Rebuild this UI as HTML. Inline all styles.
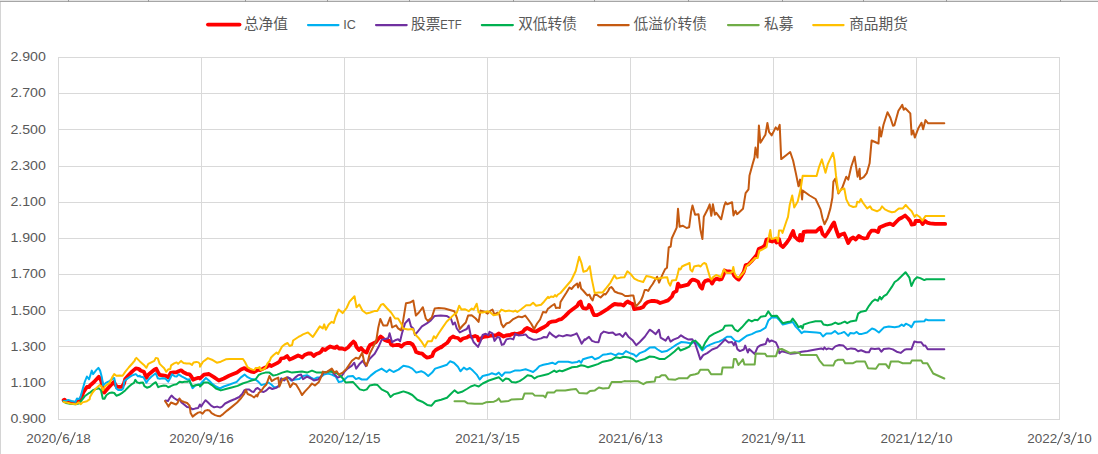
<!DOCTYPE html>
<html><head><meta charset="utf-8"><title>chart</title>
<style>html,body{margin:0;padding:0;background:#fff;}body{width:1098px;height:454px;overflow:hidden;}svg{display:block;}text{font-family:"Liberation Sans",sans-serif;fill:#595959;}</style></head><body>
<svg width="1098" height="454" viewBox="0 0 1098 454">
<rect width="1098" height="454" fill="#fff"/>
<rect x="0" y="0" width="1098" height="1" fill="#E4E4E4"/>
<rect x="0" y="1" width="1098" height="1" fill="#A6A6A6"/>
<rect x="0" y="2" width="1" height="452" fill="#D4D4D4"/>
<rect x="68" y="0" width="1" height="2" fill="#999999"/>
<rect x="148" y="0" width="1" height="2" fill="#999999"/>
<rect x="245" y="0" width="1" height="2" fill="#999999"/>
<rect x="327" y="0" width="1" height="2" fill="#999999"/>
<rect x="409" y="0" width="1" height="2" fill="#999999"/>
<rect x="513" y="0" width="1" height="2" fill="#999999"/>
<rect x="594" y="0" width="1" height="2" fill="#999999"/>
<rect x="688" y="0" width="1" height="2" fill="#999999"/>
<rect x="782" y="0" width="1" height="2" fill="#999999"/>
<rect x="863" y="0" width="1" height="2" fill="#999999"/>
<rect x="946" y="0" width="1" height="2" fill="#999999"/>
<rect x="1060" y="0" width="1" height="2" fill="#999999"/>
<g stroke="#D9D9D9" stroke-width="1" fill="none" shape-rendering="crispEdges">
<line x1="58.0" y1="57.5" x2="1060.0" y2="57.5"/>
<line x1="58.0" y1="93.5" x2="1060.0" y2="93.5"/>
<line x1="58.0" y1="129.5" x2="1060.0" y2="129.5"/>
<line x1="58.0" y1="166.5" x2="1060.0" y2="166.5"/>
<line x1="58.0" y1="202.5" x2="1060.0" y2="202.5"/>
<line x1="58.0" y1="238.5" x2="1060.0" y2="238.5"/>
<line x1="58.0" y1="274.5" x2="1060.0" y2="274.5"/>
<line x1="58.0" y1="310.5" x2="1060.0" y2="310.5"/>
<line x1="58.0" y1="346.5" x2="1060.0" y2="346.5"/>
<line x1="58.0" y1="383.5" x2="1060.0" y2="383.5"/>
<line x1="58.0" y1="419.5" x2="1060.0" y2="419.5"/>
<line x1="58.5" y1="57.0" x2="58.5" y2="420.0"/>
<line x1="201.5" y1="57.0" x2="201.5" y2="420.0"/>
<line x1="344.5" y1="57.0" x2="344.5" y2="420.0"/>
<line x1="487.5" y1="57.0" x2="487.5" y2="420.0"/>
<line x1="630.5" y1="57.0" x2="630.5" y2="420.0"/>
<line x1="773.5" y1="57.0" x2="773.5" y2="420.0"/>
<line x1="916.5" y1="57.0" x2="916.5" y2="420.0"/>
<line x1="1059.5" y1="57.0" x2="1059.5" y2="420.0"/>
</g>
<g fill="none" stroke-linejoin="round" stroke-linecap="round">
<path d="M63.6 400.2 L64.6 399.6 L66.0 401.3 L70.4 402.4 L75.4 403.0 L78.7 401.3 L80.9 398.5 L83.6 391.9 L86.9 387.0 L89.1 387.0 L90.0 385.5 L94.0 382.0 L98.8 376.7 L101.0 380.2 L104.1 392.6 L108.9 387.3 L113.8 382.0 L116.0 385.5 L117.3 386.8 L121.7 386.8 L123.9 383.8 L125.2 378.9 L128.7 375.0 L132.3 371.4 L135.8 368.4 L138.4 368.8 L139.9 369.7 L139.9 370.1 L140.9 370.8 L143.9 371.8 L146.4 377.8 L148.3 374.8 L151.3 372.3 L154.3 369.8 L156.3 368.8 L158.3 372.8 L159.7 374.8 L162.7 375.3 L165.7 375.8 L168.2 377.3 L170.7 372.8 L173.6 372.3 L176.6 372.3 L178.6 371.3 L181.1 370.3 L183.5 372.3 L186.5 373.8 L189.5 374.3 L191.5 376.8 L193.0 379.7 L195.4 378.8 L198.4 377.8 L199.9 377.8 L200.0 378.5 L204.0 374.6 L208.9 374.0 L213.9 377.2 L218.8 380.5 L223.8 378.5 L229.0 375.8 L232.0 374.6 L237.0 372.6 L241.0 369.6 L244.5 368.1 L247.5 370.1 L251.0 371.6 L254.0 372.1 L256.6 370.6 L258.1 369.6 L260.1 370.1 L263.1 368.6 L266.6 367.1 L269.1 364.6 L271.1 366.1 L274.1 364.6 L277.1 363.1 L279.6 361.5 L281.1 358.5 L284.1 358.0 L287.1 356.0 L289.6 359.5 L292.1 358.5 L295.1 357.0 L298.1 355.5 L300.6 356.5 L302.1 357.5 L304.6 355.0 L308.1 353.5 L311.2 353.5 L313.7 356.0 L316.2 354.0 L319.2 353.0 L321.2 351.5 L322.7 349.0 L325.2 350.0 L327.7 348.0 L330.2 346.5 L333.2 347.5 L335.2 347.8 L336.0 347.0 L337.0 346.5 L339.0 348.5 L342.0 348.5 L345.0 349.5 L348.0 347.5 L351.0 344.0 L353.5 341.5 L355.0 343.0 L356.5 347.0 L359.0 350.0 L361.0 348.0 L363.6 351.0 L366.6 352.6 L368.6 347.5 L370.1 345.0 L373.1 343.5 L376.1 342.0 L378.6 338.5 L380.6 336.5 L382.6 338.0 L384.6 340.0 L387.1 341.0 L389.6 341.0 L391.1 344.5 L393.1 345.5 L396.1 345.0 L399.1 345.0 L401.6 346.5 L404.1 344.0 L407.1 343.0 L410.1 343.0 L412.6 344.5 L414.6 348.0 L416.1 352.0 L419.2 353.1 L422.2 353.6 L424.7 356.1 L426.7 357.6 L429.7 357.1 L432.2 356.1 L433.7 352.0 L435.7 350.0 L439.2 348.0 L440.7 347.0 L441.0 347.4 L444.0 345.0 L447.0 343.0 L449.0 340.5 L450.0 338.5 L453.0 336.5 L455.0 337.5 L458.0 338.0 L460.5 340.5 L463.0 338.5 L465.0 338.0 L467.0 337.5 L469.1 336.0 L472.1 337.0 L475.1 336.0 L477.6 337.0 L478.6 340.5 L480.1 339.5 L482.1 337.5 L485.1 336.5 L489.1 336.0 L492.1 335.5 L495.6 335.5 L498.6 333.5 L501.1 335.0 L503.6 336.5 L506.1 335.5 L510.1 335.0 L512.1 334.0 L514.6 333.5 L517.1 334.0 L520.1 333.0 L522.7 332.0 L524.7 329.5 L527.2 328.0 L530.2 329.5 L533.2 331.0 L536.2 331.5 L538.7 330.0 L541.2 328.5 L544.2 327.0 L547.2 325.0 L549.0 322.8 L552.0 321.6 L556.0 321.1 L559.0 319.6 L561.5 319.1 L565.0 316.1 L569.0 312.1 L573.0 309.1 L577.1 306.0 L579.1 302.5 L580.6 301.5 L581.6 305.5 L583.1 308.1 L586.1 308.6 L588.1 307.6 L589.1 305.0 L591.1 307.6 L592.6 312.1 L594.1 315.1 L597.1 315.1 L600.1 313.6 L604.1 311.1 L608.1 308.6 L612.1 305.5 L614.6 304.0 L618.1 304.5 L621.1 304.5 L623.6 305.5 L626.1 302.5 L627.6 301.5 L630.1 303.0 L632.7 304.0 L634.2 309.1 L636.7 308.6 L640.2 308.1 L643.2 307.0 L645.2 304.0 L647.7 302.0 L651.2 301.0 L654.2 301.0 L656.7 301.3 L660.1 303.0 L664.0 301.8 L668.0 300.4 L672.0 296.5 L673.5 292.6 L676.5 291.1 L678.0 283.6 L680.0 286.6 L684.1 285.6 L688.1 284.6 L690.6 281.1 L692.6 279.6 L695.1 280.1 L698.1 281.6 L700.1 286.6 L702.1 288.6 L703.6 283.1 L705.1 281.1 L708.1 280.1 L710.6 280.6 L712.1 283.6 L714.1 280.1 L716.6 278.6 L719.1 279.6 L721.6 279.1 L723.6 274.5 L724.6 270.5 L727.1 271.5 L730.1 271.5 L732.6 272.0 L734.1 275.6 L736.6 278.1 L738.7 279.6 L741.2 276.1 L743.7 272.0 L745.7 265.0 L748.2 264.5 L751.2 261.5 L754.2 258.0 L756.7 255.0 L758.7 249.0 L761.0 247.9 L763.0 247.1 L765.0 245.1 L766.5 239.5 L768.5 239.0 L770.0 241.0 L772.0 241.5 L775.0 240.0 L776.5 242.6 L779.0 239.0 L780.5 245.1 L783.0 247.1 L786.0 243.6 L789.6 238.5 L791.6 234.0 L793.1 231.0 L794.6 236.5 L797.6 239.5 L799.6 240.5 L800.1 235.0 L802.1 240.5 L803.6 232.0 L807.1 231.5 L812.1 231.5 L816.1 231.5 L818.6 229.0 L820.6 227.5 L822.6 234.0 L825.1 236.5 L827.6 233.0 L830.1 229.0 L832.6 224.5 L834.1 222.5 L836.1 229.5 L838.6 236.5 L841.1 234.5 L844.2 233.5 L846.2 238.0 L848.2 243.1 L850.7 239.0 L853.2 237.5 L855.7 239.5 L858.7 236.0 L861.2 237.5 L864.2 238.5 L867.2 238.0 L868.9 234.0 L869.5 233.1 L871.5 230.6 L875.0 230.6 L878.0 232.1 L879.5 227.6 L883.0 226.1 L886.5 224.6 L890.1 223.6 L893.1 225.1 L896.1 222.0 L899.1 219.0 L902.1 217.5 L905.1 215.5 L908.1 218.5 L910.1 221.0 L911.6 224.6 L914.6 224.1 L915.6 221.0 L919.1 220.8 L921.1 221.5 L922.6 224.1 L925.1 221.0 L927.1 222.6 L930.1 223.4 L935.1 223.9 L945.2 223.9" stroke="#FF0000" stroke-width="3.8"/>
<path d="M63.6 400.7 L64.9 401.3 L68.2 399.9 L71.5 401.0 L75.4 401.9 L77.0 398.5 L78.7 399.1 L80.3 397.4 L82.5 389.7 L84.7 382.0 L86.9 376.5 L89.1 379.3 L90.0 376.3 L91.8 370.6 L93.1 374.1 L96.2 370.1 L98.4 367.9 L100.1 370.6 L101.9 377.6 L103.2 385.5 L105.8 382.9 L109.4 381.1 L112.4 378.9 L114.2 378.0 L115.1 382.0 L116.0 388.2 L118.2 389.9 L121.7 389.9 L123.3 388.2 L124.3 381.1 L127.0 378.9 L130.1 376.7 L133.1 375.0 L135.8 374.1 L138.0 376.3 L139.9 375.8 L140.0 376.6 L140.9 376.8 L143.4 377.3 L144.9 379.7 L146.4 382.7 L148.3 379.7 L151.3 376.8 L153.8 374.8 L155.8 373.3 L157.8 378.3 L159.7 378.8 L162.7 378.3 L165.7 378.8 L168.2 381.7 L170.2 378.3 L172.1 374.3 L174.6 376.3 L176.6 376.6 L178.6 374.3 L181.6 376.3 L184.5 377.8 L187.5 379.7 L189.5 379.2 L191.0 384.7 L192.5 388.2 L194.4 386.2 L197.4 384.7 L199.9 384.2 L200.0 384.5 L203.0 381.1 L205.9 378.0 L208.9 380.5 L211.9 383.5 L215.9 386.5 L219.8 388.5 L223.8 386.5 L229.7 384.5 L236.7 381.9 L240.6 377.6 L244.6 374.6 L247.6 377.2 L251.5 379.1 L255.5 379.5 L258.5 381.9 L261.4 385.1 L265.4 383.9 L268.4 382.5 L271.3 384.5 L274.3 387.5 L278.3 386.5 L281.2 378.5 L284.2 379.5 L288.2 377.6 L291.1 380.5 L295.1 379.5 L299.1 379.1 L303.0 376.0 L307.0 375.2 L311.0 377.6 L313.9 379.1 L316.9 377.6 L319.9 377.6 L323.8 374.6 L327.8 373.6 L331.8 374.6 L335.7 376.6 L338.7 381.9 L341.7 381.5 L344.6 379.5 L347.6 376.6 L352.9 376.0 L355.9 379.1 L358.8 378.0 L361.8 379.5 L366.8 379.5 L370.7 375.6 L375.7 371.6 L381.6 368.6 L386.6 372.0 L389.5 369.6 L393.5 372.0 L398.5 369.6 L403.4 365.7 L408.4 366.7 L412.3 368.6 L416.3 372.6 L421.2 371.2 L424.2 372.6 L428.2 376.0 L432.1 372.6 L435.1 368.6 L441.1 366.7 L447.0 364.7 L450.0 361.3 L453.9 362.7 L457.9 366.7 L460.5 371.2 L463.8 367.6 L466.8 369.6 L469.8 368.0 L472.8 370.6 L476.7 374.6 L479.7 379.5 L482.7 376.0 L488.9 374.6 L491.9 373.2 L495.9 374.6 L498.8 372.6 L501.8 376.0 L504.8 372.6 L509.7 372.6 L514.7 370.6 L519.6 370.6 L525.6 369.2 L529.5 370.6 L533.1 372.0 L536.5 369.2 L539.4 366.1 L543.4 364.7 L548.4 363.7 L552.3 362.7 L555.3 364.1 L558.3 361.7 L563.2 361.7 L568.2 361.7 L572.1 362.7 L577.1 362.1 L579.1 360.7 L581.1 362.7 L583.0 359.3 L588.0 357.7 L592.0 356.8 L594.9 359.3 L598.9 357.7 L602.9 354.8 L606.8 354.2 L610.8 353.4 L615.7 355.4 L618.7 353.4 L622.7 354.2 L625.9 351.1 L629.9 353.1 L633.9 354.5 L636.2 356.5 L639.8 353.1 L644.8 351.1 L649.7 347.6 L654.7 347.2 L657.6 349.5 L661.6 351.9 L666.6 351.1 L671.5 348.0 L676.5 344.6 L681.4 342.0 L686.4 342.6 L691.3 343.6 L694.3 341.6 L698.3 345.2 L702.2 350.5 L706.2 346.6 L710.2 344.6 L715.1 342.6 L719.1 341.6 L723.0 339.6 L727.0 336.7 L731.0 336.7 L734.9 340.6 L738.9 341.6 L742.9 338.6 L746.8 335.7 L751.8 334.1 L756.7 331.7 L760.7 330.7 L765.6 327.7 L768.3 320.6 L771.9 317.3 L776.8 317.6 L779.8 320.6 L782.8 324.6 L787.7 323.2 L792.7 322.0 L795.7 326.6 L798.6 329.5 L801.6 333.1 L804.0 331.5 L809.5 331.9 L816.5 332.5 L820.4 333.1 L823.0 336.5 L826.4 333.5 L831.3 333.5 L834.9 331.1 L838.3 333.9 L841.2 333.1 L844.2 331.9 L848.2 335.9 L850.2 333.1 L854.1 333.5 L856.7 331.9 L859.1 333.9 L862.0 333.9 L867.0 332.5 L872.0 328.5 L874.9 329.5 L878.9 332.5 L883.8 327.6 L888.8 326.6 L894.7 327.2 L898.7 326.6 L901.7 324.6 L903.7 326.0 L905.9 323.7 L909.4 325.3 L911.4 327.3 L914.4 321.7 L924.3 321.3 L925.7 319.4 L928.3 320.3 L944.3 320.3" stroke="#00B0F0" stroke-width="2.0"/>
<path d="M165.5 400.5 L168.0 401.0 L170.0 397.5 L171.5 395.5 L174.0 398.0 L177.0 400.0 L179.5 399.5 L181.5 402.5 L184.1 404.5 L187.1 407.1 L190.1 407.6 L192.6 409.3 L195.1 408.6 L198.1 408.1 L199.9 404.5 L201.1 406.6 L203.1 403.5 L205.6 400.2 L208.1 402.5 L211.1 405.6 L214.1 407.3 L217.1 406.6 L220.1 407.6 L222.1 406.6 L225.1 403.5 L230.1 401.0 L235.1 399.0 L239.2 397.0 L242.2 394.0 L244.2 390.5 L246.2 389.5 L249.2 389.5 L251.7 391.5 L253.7 392.0 L255.7 389.0 L257.7 388.0 L259.7 389.5 L261.7 391.5 L263.7 392.0 L266.4 390.4 L269.4 387.5 L272.3 389.0 L276.3 387.9 L279.3 385.5 L281.2 378.5 L284.2 380.5 L287.2 377.2 L290.2 378.5 L292.1 380.5 L295.1 377.6 L298.1 375.2 L301.1 374.6 L303.0 379.1 L307.0 376.6 L311.0 378.5 L313.9 380.5 L317.9 379.5 L320.9 376.6 L323.8 372.6 L327.8 371.6 L330.8 370.6 L334.7 374.6 L337.7 377.6 L341.7 376.0 L344.6 371.6 L347.6 368.6 L351.9 365.7 L354.3 362.7 L356.2 368.6 L359.8 363.7 L362.8 360.7 L365.8 366.1 L369.7 358.7 L374.7 353.8 L378.6 346.8 L381.6 339.9 L384.6 338.9 L385.2 338.9 L388.2 338.3 L389.6 333.3 L392.1 342.2 L395.1 340.3 L398.1 339.3 L400.1 341.2 L402.0 333.3 L405.0 323.4 L409.0 319.0 L411.0 326.4 L413.3 328.4 L414.9 334.9 L417.9 331.3 L421.9 326.4 L426.8 323.4 L430.8 320.4 L434.7 315.9 L440.7 315.5 L446.6 315.9 L450.9 318.5 L452.9 324.5 L454.9 322.5 L456.8 328.5 L459.8 332.4 L463.8 330.4 L466.8 329.0 L468.7 325.5 L470.7 335.4 L473.7 342.3 L478.0 346.9 L480.6 341.3 L482.6 335.0 L485.6 333.8 L488.5 335.0 L489.5 331.8 L492.5 333.4 L494.5 340.9 L497.5 337.0 L499.4 337.4 L501.8 344.9 L503.8 344.3 L506.4 339.4 L510.3 338.4 L513.3 339.4 L515.3 333.8 L518.3 335.4 L523.2 335.0 L525.6 334.4 L528.2 337.4 L533.1 339.7 L537.1 339.4 L541.1 338.4 L544.0 337.0 L547.0 337.4 L549.6 332.4 L552.9 335.4 L555.9 337.4 L558.9 335.4 L562.9 336.4 L566.8 335.0 L570.8 335.8 L574.7 334.4 L576.7 333.4 L578.7 337.4 L581.7 343.7 L584.6 339.4 L585.0 339.9 L589.0 336.9 L592.0 340.9 L594.9 341.9 L598.5 342.3 L600.9 334.0 L603.8 331.6 L608.8 333.0 L612.8 332.4 L615.7 335.0 L619.7 334.0 L622.7 336.9 L625.5 332.7 L628.9 337.3 L632.9 340.6 L636.2 345.2 L639.8 342.0 L644.8 336.7 L649.7 329.7 L652.7 331.7 L655.7 334.1 L659.0 329.7 L660.6 337.6 L665.6 340.6 L668.2 336.7 L670.5 341.6 L673.5 339.6 L678.5 337.6 L681.0 335.3 L684.4 337.6 L688.4 339.6 L692.3 339.2 L695.3 344.0 L698.3 353.1 L700.3 359.4 L703.2 355.1 L707.2 353.1 L712.1 349.5 L717.1 347.6 L721.1 343.6 L725.0 339.6 L728.6 342.6 L732.0 342.0 L733.9 345.2 L735.3 342.0 L737.3 349.1 L739.9 351.1 L743.8 349.5 L745.2 345.6 L747.8 352.5 L749.2 349.1 L754.7 353.9 L757.7 347.2 L760.7 345.2 L765.6 344.0 L767.6 338.6 L769.5 341.8 L771.5 340.4 L775.9 342.4 L778.2 347.4 L779.4 353.3 L781.8 351.3 L785.8 352.3 L790.7 353.7 L795.7 353.3 L801.6 351.7 L807.6 350.9 L815.5 349.4 L821.4 348.4 L823.4 349.4 L824.4 347.4 L826.4 349.4 L828.4 348.4 L832.3 349.4 L835.3 346.4 L839.3 345.0 L843.2 345.4 L847.2 349.4 L851.1 348.4 L855.1 349.0 L858.1 351.3 L861.1 350.3 L866.0 352.3 L869.0 352.3 L871.0 348.4 L874.9 349.0 L878.9 348.4 L881.3 351.7 L883.8 349.0 L888.8 348.4 L892.8 349.4 L896.7 351.7 L900.7 352.9 L904.6 349.7 L906.5 349.3 L911.4 349.3 L914.4 341.4 L917.4 342.2 L921.3 342.2 L923.7 345.8 L925.3 345.4 L927.7 349.3 L944.3 349.3" stroke="#7030A0" stroke-width="2.0"/>
<path d="M63.6 401.6 L66.0 403.0 L70.4 403.8 L75.4 404.3 L78.7 403.5 L81.4 400.7 L84.7 396.3 L89.1 393.0 L90.0 392.6 L93.5 389.9 L98.8 388.2 L101.0 390.4 L102.8 398.7 L104.5 398.7 L106.3 395.2 L109.4 393.0 L112.0 392.6 L114.2 393.0 L116.4 395.7 L119.0 394.8 L122.6 392.6 L125.2 390.4 L128.7 386.8 L132.3 383.8 L134.0 382.9 L135.3 379.8 L137.1 382.4 L139.9 383.3 L140.0 382.7 L142.9 382.5 L144.4 386.2 L146.9 387.7 L149.8 386.7 L152.8 384.2 L155.8 382.2 L158.3 387.2 L160.7 386.2 L163.7 385.5 L166.2 385.7 L168.2 387.2 L170.7 386.2 L173.6 384.9 L176.6 384.2 L179.6 381.7 L182.1 382.2 L184.5 381.7 L187.5 381.7 L189.5 380.9 L191.0 384.2 L192.5 386.2 L195.4 385.2 L198.4 384.7 L199.9 385.2 L200.0 386.5 L204.0 382.5 L207.9 382.5 L211.9 385.1 L215.9 388.5 L220.8 390.4 L225.8 389.0 L231.7 387.5 L237.6 385.9 L242.6 383.5 L247.6 381.9 L251.5 380.5 L255.5 379.5 L258.5 375.2 L261.4 373.6 L265.4 372.6 L269.4 372.6 L273.3 375.6 L277.3 374.6 L282.2 372.6 L287.2 371.2 L292.1 372.6 L297.1 372.0 L302.0 371.6 L307.0 372.6 L312.0 370.6 L316.9 372.6 L321.9 372.6 L326.8 372.0 L331.8 371.6 L336.7 373.2 L340.7 376.0 L343.7 379.5 L345.6 382.5 L352.9 381.9 L355.9 385.1 L359.8 389.4 L363.8 390.4 L366.8 389.4 L369.7 385.5 L374.7 384.5 L377.6 385.1 L381.6 389.4 L387.6 392.4 L390.5 397.0 L393.5 394.4 L398.5 393.0 L403.4 391.4 L408.4 393.0 L412.3 395.0 L417.3 399.7 L422.2 401.7 L427.2 404.9 L431.5 405.7 L435.1 401.3 L441.1 399.7 L447.0 397.8 L451.0 393.8 L454.5 390.4 L457.9 393.0 L461.9 391.8 L466.8 389.0 L470.8 386.5 L474.7 385.1 L478.7 386.5 L482.7 383.5 L488.9 380.5 L494.9 378.5 L498.8 377.2 L502.8 381.1 L505.8 378.5 L508.7 379.1 L511.7 381.9 L515.7 382.5 L519.6 381.1 L523.6 378.5 L527.6 375.2 L531.5 376.0 L534.5 378.5 L537.5 376.6 L543.4 375.2 L548.4 374.0 L554.3 370.6 L556.3 372.0 L559.3 370.6 L562.2 371.2 L567.2 369.2 L572.1 367.3 L577.1 366.7 L581.1 365.3 L585.0 366.1 L588.0 367.3 L592.9 365.7 L597.9 364.1 L602.9 361.7 L607.8 360.7 L611.8 359.7 L615.7 357.3 L619.7 358.1 L623.7 356.8 L628.9 357.5 L632.9 359.0 L636.2 361.8 L639.8 360.4 L644.8 359.0 L649.7 356.5 L654.7 357.1 L659.6 359.0 L664.6 359.0 L669.5 355.5 L674.5 351.5 L678.5 347.6 L680.4 350.5 L685.4 348.5 L689.4 346.6 L692.3 341.6 L695.3 340.6 L699.3 344.6 L702.2 349.1 L705.2 342.6 L709.2 336.7 L714.1 333.7 L719.1 331.3 L723.0 329.3 L725.0 325.8 L729.0 325.4 L732.0 325.4 L734.9 329.7 L737.9 331.3 L741.9 327.3 L745.8 322.8 L748.8 319.8 L751.8 321.4 L754.7 319.8 L757.7 320.2 L760.7 316.8 L765.6 315.9 L768.3 311.3 L771.5 316.1 L776.8 315.7 L779.8 319.6 L782.8 323.2 L787.7 322.0 L790.7 321.6 L792.7 318.6 L795.7 322.6 L798.6 327.2 L801.2 326.0 L802.6 328.5 L803.6 324.6 L809.5 322.6 L815.5 321.2 L821.4 321.2 L823.4 324.6 L827.4 325.2 L831.3 324.6 L835.3 322.6 L838.3 324.0 L841.2 323.2 L844.8 321.6 L847.2 323.2 L850.2 321.6 L856.1 320.6 L858.1 313.7 L861.1 311.7 L866.0 310.7 L869.0 305.8 L872.0 301.8 L874.9 299.4 L877.9 300.8 L879.9 296.8 L881.3 299.4 L883.8 296.2 L886.8 294.3 L891.8 286.9 L894.7 282.0 L897.7 280.0 L905.5 272.2 L909.4 277.7 L911.4 286.1 L914.4 279.7 L917.0 277.3 L920.3 278.1 L924.3 280.1 L926.3 279.3 L944.3 279.3" stroke="#00B050" stroke-width="2.0"/>
<path d="M165.0 401.0 L167.0 404.0 L168.5 406.6 L171.0 402.5 L173.5 403.5 L176.0 404.5 L177.5 403.0 L179.5 398.5 L181.5 401.0 L184.1 402.0 L187.1 403.0 L189.6 405.6 L190.6 413.1 L192.6 416.6 L195.1 414.6 L198.1 412.6 L200.1 412.1 L202.6 413.6 L205.1 410.6 L207.1 410.1 L209.6 410.6 L211.6 413.1 L215.1 415.1 L218.1 416.1 L220.1 416.3 L223.1 414.1 L227.1 410.6 L232.1 406.6 L237.1 402.5 L241.2 398.0 L244.2 394.0 L245.7 390.0 L247.7 394.0 L251.2 395.5 L254.2 397.5 L256.2 395.0 L257.2 396.5 L258.7 393.0 L261.2 391.0 L263.2 388.0 L263.9 387.0 L266.4 384.5 L269.4 376.0 L271.7 381.1 L274.9 379.1 L278.3 377.6 L279.3 386.5 L282.2 379.5 L286.2 377.6 L288.2 381.9 L290.2 387.1 L293.1 383.1 L296.1 384.5 L299.1 389.4 L302.0 395.0 L305.0 391.4 L309.0 387.1 L312.0 383.5 L314.9 385.5 L318.9 381.9 L321.3 376.6 L322.9 371.6 L325.8 372.6 L328.8 370.6 L331.8 368.6 L334.3 372.6 L336.7 371.2 L338.7 374.6 L342.7 372.6 L346.6 368.6 L351.9 360.7 L355.9 357.7 L358.8 358.7 L362.2 352.8 L364.2 361.7 L366.8 365.7 L369.7 353.8 L373.7 345.9 L376.3 340.3 L378.3 327.4 L380.3 319.0 L383.2 325.4 L387.2 325.4 L390.2 317.5 L392.1 327.4 L396.1 325.4 L398.1 328.4 L401.1 330.3 L403.0 321.4 L406.0 303.2 L410.0 302.6 L413.3 300.6 L415.9 315.5 L418.9 312.5 L422.9 307.2 L425.8 318.5 L427.8 321.0 L431.8 317.5 L434.7 308.5 L438.7 308.0 L444.6 308.5 L454.3 311.2 L456.8 317.6 L459.8 329.0 L462.8 325.5 L465.8 322.5 L468.1 315.6 L471.7 315.2 L475.7 318.5 L478.6 321.9 L480.6 310.6 L484.6 311.6 L487.6 313.6 L490.5 310.6 L492.5 309.6 L494.5 314.6 L497.5 312.6 L499.4 314.6 L501.4 323.9 L503.4 327.1 L506.4 323.5 L509.4 322.5 L513.3 319.1 L518.3 316.6 L522.2 317.2 L525.2 315.6 L528.2 319.5 L531.1 323.5 L534.1 329.0 L537.1 323.5 L540.1 319.5 L543.0 312.0 L546.0 312.6 L548.0 308.6 L549.0 308.1 L551.5 306.0 L554.5 304.0 L556.0 308.1 L558.0 307.6 L559.8 308.1 L560.5 302.0 L563.0 298.0 L566.5 292.5 L569.5 287.5 L571.5 289.0 L574.0 286.0 L577.1 283.5 L578.1 287.5 L579.9 282.5 L581.1 288.5 L583.1 290.5 L586.1 294.0 L587.6 295.5 L589.3 294.5 L591.1 298.5 L592.6 300.5 L594.3 295.0 L597.1 295.0 L599.1 296.5 L600.6 297.5 L602.6 295.5 L604.1 294.0 L605.6 294.5 L608.1 291.0 L609.6 288.0 L611.3 287.0 L613.1 289.0 L614.6 291.5 L618.1 293.0 L622.1 294.0 L625.1 296.0 L628.1 296.0 L631.2 295.5 L633.4 295.5 L635.7 306.5 L638.2 304.0 L640.7 301.0 L642.7 296.5 L644.7 290.0 L646.7 290.0 L648.2 291.0 L650.2 287.5 L652.7 284.0 L654.7 280.5 L657.1 276.7 L659.1 282.6 L662.0 275.7 L665.0 269.3 L667.0 267.7 L668.7 247.5 L670.7 246.5 L671.7 238.5 L676.7 227.6 L678.0 208.8 L679.6 226.7 L682.6 225.7 L686.6 228.0 L689.1 227.3 L691.1 211.8 L692.5 205.5 L695.1 214.8 L698.5 214.2 L700.4 229.6 L702.4 239.1 L703.8 216.8 L707.4 209.8 L709.7 204.3 L711.3 215.8 L712.9 204.3 L714.9 214.8 L716.3 212.8 L721.2 219.3 L724.2 205.9 L725.6 202.3 L727.2 204.3 L732.1 202.3 L733.5 215.4 L735.5 210.8 L737.1 214.2 L743.0 208.8 L745.6 193.2 L748.5 189.3 L749.5 175.4 L752.5 164.5 L754.5 157.6 L755.5 147.6 L757.5 157.6 L758.9 125.5 L760.4 142.7 L765.4 134.8 L767.4 122.9 L769.0 131.8 L771.7 135.4 L775.7 127.4 L777.7 129.8 L779.7 124.9 L781.2 159.1 L786.2 155.2 L790.2 152.0 L793.1 160.5 L796.1 174.4 L798.5 186.3 L800.1 179.6 L802.1 199.4 L802.7 190.5 L809.6 195.5 L815.6 199.0 L820.5 209.4 L822.5 218.3 L824.5 224.2 L827.5 218.3 L830.4 208.4 L832.4 197.5 L833.4 181.6 L835.4 178.6 L838.4 193.5 L842.3 187.6 L846.3 176.7 L848.3 179.6 L851.2 166.8 L854.6 156.8 L857.6 176.7 L859.6 168.7 L860.1 179.2 L863.7 177.2 L866.7 173.2 L869.6 163.3 L871.6 140.5 L878.5 143.5 L879.5 127.3 L881.1 136.6 L883.5 124.7 L887.5 112.2 L890.4 117.7 L893.0 125.7 L894.4 125.3 L898.4 110.8 L902.3 104.9 L903.7 109.8 L905.3 108.2 L910.3 113.4 L911.6 134.6 L913.2 130.6 L914.8 137.6 L918.2 128.6 L921.5 122.7 L923.1 129.2 L925.5 120.1 L928.1 123.3 L944.3 123.3" stroke="#C55A11" stroke-width="2.0"/>
<path d="M454.5 401.3 L464.8 401.3 L467.8 403.3 L474.7 403.7 L482.7 403.7 L485.9 402.3 L493.9 401.7 L496.8 400.3 L498.8 398.4 L500.8 401.7 L508.7 400.9 L511.7 399.4 L522.6 399.0 L524.6 393.4 L532.5 393.4 L534.5 395.4 L543.4 395.8 L545.4 397.4 L547.4 392.4 L554.3 392.4 L556.3 390.4 L565.2 390.4 L571.1 389.4 L576.1 389.0 L579.1 393.0 L587.0 393.4 L590.0 391.0 L594.9 390.4 L598.9 387.5 L602.9 388.5 L608.8 387.9 L611.8 381.9 L621.7 381.9 L624.6 381.1 L625.9 381.2 L637.8 381.2 L640.8 382.8 L643.4 384.2 L646.8 382.2 L654.7 381.6 L655.7 377.3 L659.6 376.9 L661.6 375.3 L665.6 375.3 L668.5 379.3 L675.5 379.7 L678.5 378.3 L687.4 378.3 L690.3 375.3 L695.3 374.3 L698.3 373.3 L700.3 369.7 L708.2 369.7 L711.1 374.3 L721.5 374.3 L722.6 367.4 L732.9 367.4 L733.9 359.0 L735.9 359.0 L738.5 365.0 L742.9 359.4 L744.4 364.4 L754.7 364.4 L755.7 353.5 L765.0 353.7 L766.9 356.3 L775.9 356.3 L778.2 349.4 L781.8 349.0 L784.8 350.3 L789.7 352.9 L794.7 352.3 L799.6 352.9 L800.6 354.9 L816.5 354.9 L819.4 360.3 L823.4 365.2 L833.3 365.6 L835.3 361.2 L838.3 359.7 L843.2 359.7 L845.2 363.2 L853.1 363.2 L856.1 361.6 L865.0 361.6 L868.0 368.2 L875.9 368.8 L878.9 364.2 L885.8 364.2 L888.8 368.2 L890.8 361.6 L898.7 361.6 L902.7 363.2 L910.4 363.2 L911.8 360.6 L921.3 360.6 L922.9 363.2 L927.3 363.2 L933.2 373.5 L944.3 378.5" stroke="#70AD47" stroke-width="2.0"/>
<path d="M63.6 401.9 L66.0 402.4 L70.4 403.5 L75.9 404.3 L78.7 402.4 L80.9 404.1 L82.5 402.4 L86.9 401.3 L89.7 399.1 L90.0 397.0 L92.6 392.6 L96.2 388.2 L99.7 385.1 L101.4 386.4 L103.0 390.4 L105.0 386.4 L107.2 384.6 L109.8 382.9 L112.0 377.6 L114.2 374.1 L116.4 375.8 L119.5 375.4 L122.6 375.8 L125.2 371.9 L128.7 367.5 L132.3 363.5 L134.9 360.4 L135.0 359.4 L136.4 357.9 L139.9 361.4 L143.9 364.9 L146.4 367.8 L148.3 363.9 L151.3 362.4 L154.3 360.9 L155.8 357.9 L157.8 358.4 L159.7 363.9 L161.7 365.9 L164.2 368.3 L166.2 371.8 L168.2 369.3 L170.2 369.3 L171.1 365.4 L174.1 363.4 L176.6 362.4 L178.1 363.9 L181.1 360.9 L183.5 362.9 L186.5 363.4 L189.5 363.4 L192.0 364.9 L193.5 362.4 L196.4 361.9 L198.4 362.4 L199.9 363.9 L200.0 366.7 L203.0 361.7 L207.9 358.1 L211.9 359.7 L216.8 362.7 L220.8 361.7 L225.8 359.3 L229.5 359.0 L243.0 359.0 L245.0 362.0 L247.5 367.1 L250.0 368.6 L252.5 369.6 L254.5 370.1 L255.6 368.1 L258.1 368.1 L259.6 367.1 L260.6 370.1 L263.1 369.6 L265.6 367.6 L267.6 363.1 L269.6 361.0 L271.1 357.5 L273.6 355.0 L276.6 352.5 L278.1 354.0 L279.6 351.0 L282.1 346.5 L284.6 344.5 L287.6 343.0 L289.6 346.0 L292.1 345.0 L293.1 340.5 L296.1 338.5 L299.1 336.5 L300.6 335.8 L303.0 334.4 L308.0 332.4 L312.9 336.9 L315.9 332.4 L319.8 326.4 L322.8 328.4 L324.2 324.4 L325.8 329.7 L328.7 324.4 L331.7 321.8 L333.7 323.0 L335.7 316.5 L338.6 309.5 L342.6 313.1 L346.6 308.0 L349.5 301.6 L354.5 296.3 L356.5 307.2 L359.4 304.6 L362.4 310.5 L366.4 313.5 L370.3 312.5 L374.3 311.1 L377.3 311.1 L381.2 304.6 L383.2 304.0 L387.2 308.5 L391.1 312.5 L395.1 318.5 L398.1 318.5 L401.1 323.4 L403.0 328.4 L408.0 329.4 L412.9 329.0 L414.9 334.3 L418.9 338.3 L421.9 342.2 L424.8 346.8 L427.8 341.2 L431.8 341.2 L433.8 336.3 L435.7 338.3 L438.7 333.3 L442.7 327.4 L446.6 321.8 L453.9 314.6 L456.8 312.6 L459.2 305.7 L461.4 309.6 L464.8 309.2 L468.7 311.2 L471.7 308.6 L473.7 309.6 L476.7 303.7 L478.6 312.6 L482.6 312.6 L487.6 311.2 L490.5 312.6 L493.5 315.2 L497.5 314.6 L501.4 309.6 L505.4 311.2 L509.4 310.6 L513.3 311.6 L515.3 310.6 L517.3 312.0 L521.2 309.2 L526.2 305.3 L530.2 305.3 L533.1 302.7 L536.1 305.7 L541.1 304.7 L544.0 301.7 L548.0 296.8 L549.0 298.0 L551.0 296.5 L553.5 297.0 L555.0 295.0 L556.5 296.5 L558.0 294.5 L560.5 293.0 L563.5 289.5 L566.5 286.0 L569.5 282.5 L571.2 280.5 L575.7 271.0 L579.2 256.8 L581.4 262.8 L583.4 271.7 L586.8 270.7 L589.7 266.2 L591.7 278.6 L594.7 293.1 L598.6 292.5 L602.6 292.5 L606.6 287.6 L610.5 282.6 L614.5 275.3 L616.5 278.6 L620.4 277.6 L624.4 277.3 L627.4 271.3 L630.3 273.7 L634.3 278.6 L638.3 280.6 L643.2 282.0 L646.2 276.1 L650.2 276.7 L654.1 278.0 L656.5 279.1 L658.0 278.6 L661.0 278.1 L664.0 277.6 L667.2 277.3 L668.5 282.6 L670.2 285.6 L672.0 280.6 L676.0 280.1 L677.5 275.0 L679.0 268.5 L680.5 269.5 L682.0 266.5 L685.1 265.0 L687.6 264.0 L689.6 263.0 L690.3 269.5 L692.3 271.5 L694.1 266.5 L696.1 266.0 L698.6 265.5 L700.6 266.5 L702.6 264.0 L704.1 263.0 L706.1 264.0 L708.1 271.0 L710.1 277.6 L711.6 279.6 L713.1 277.1 L716.1 275.0 L719.1 276.1 L721.1 277.1 L723.1 271.5 L724.1 269.5 L726.1 272.5 L729.1 273.0 L732.1 272.0 L733.3 267.0 L734.6 273.5 L736.6 276.6 L738.7 277.6 L741.2 275.0 L744.2 271.5 L746.2 266.5 L749.2 264.0 L752.2 261.0 L755.2 258.0 L757.7 258.0 L759.2 251.0 L761.2 250.0 L762.0 249.8 L763.0 249.1 L766.5 247.1 L767.5 242.0 L769.0 236.5 L770.3 230.0 L771.5 239.0 L774.0 238.5 L776.5 237.5 L778.0 241.5 L779.0 230.5 L781.5 230.5 L782.5 233.0 L784.5 227.0 L786.5 221.0 L788.0 216.8 L789.8 204.4 L792.2 195.5 L794.2 207.4 L797.7 201.4 L800.7 188.5 L802.7 175.7 L816.6 176.1 L819.1 166.8 L821.9 159.4 L825.5 172.7 L827.9 163.8 L833.0 152.9 L834.4 159.8 L836.0 175.7 L838.4 192.5 L841.3 189.5 L844.3 188.5 L846.3 199.4 L849.3 205.4 L853.2 207.0 L856.2 206.4 L857.2 201.8 L859.2 202.4 L860.8 199.0 L863.1 203.0 L867.1 208.4 L870.1 206.4 L872.0 209.4 L877.0 211.3 L880.0 209.7 L882.0 206.4 L884.9 209.4 L888.9 211.3 L891.9 212.3 L894.8 211.7 L898.8 208.4 L902.8 208.4 L905.7 205.0 L908.7 208.4 L911.7 211.3 L914.6 216.9 L916.5 214.7 L919.4 216.7 L922.4 220.6 L925.4 216.1 L944.3 216.1" stroke="#FFC000" stroke-width="2.0"/>
</g>
<text transform="translate(45.9 61.2) scale(1.155 1)" font-size="12.3" text-anchor="end">2.900</text>
<text transform="translate(45.9 97.4) scale(1.155 1)" font-size="12.3" text-anchor="end">2.700</text>
<text transform="translate(45.9 133.6) scale(1.155 1)" font-size="12.3" text-anchor="end">2.500</text>
<text transform="translate(45.9 169.8) scale(1.155 1)" font-size="12.3" text-anchor="end">2.300</text>
<text transform="translate(45.9 206.0) scale(1.155 1)" font-size="12.3" text-anchor="end">2.100</text>
<text transform="translate(45.9 242.2) scale(1.155 1)" font-size="12.3" text-anchor="end">1.900</text>
<text transform="translate(45.9 278.4) scale(1.155 1)" font-size="12.3" text-anchor="end">1.700</text>
<text transform="translate(45.9 314.6) scale(1.155 1)" font-size="12.3" text-anchor="end">1.500</text>
<text transform="translate(45.9 350.8) scale(1.155 1)" font-size="12.3" text-anchor="end">1.300</text>
<text transform="translate(45.9 387.0) scale(1.155 1)" font-size="12.3" text-anchor="end">1.100</text>
<text transform="translate(45.9 423.2) scale(1.155 1)" font-size="12.3" text-anchor="end">0.900</text>
<text x="26.26" y="443.0" font-size="12.3" textLength="29.88" lengthAdjust="spacingAndGlyphs">2020</text>
<line x1="56.44" y1="444.8" x2="61.74" y2="432.2" stroke="#595959" stroke-width="1.05"/>
<text x="62.24" y="443.0" font-size="12.3" textLength="7.47" lengthAdjust="spacingAndGlyphs">6</text>
<line x1="70.01" y1="444.8" x2="75.31" y2="432.2" stroke="#595959" stroke-width="1.05"/>
<text x="75.81" y="443.0" font-size="12.3" textLength="14.94" lengthAdjust="spacingAndGlyphs">18</text>
<text x="169.25" y="443.0" font-size="12.3" textLength="29.88" lengthAdjust="spacingAndGlyphs">2020</text>
<line x1="199.44" y1="444.8" x2="204.73" y2="432.2" stroke="#595959" stroke-width="1.05"/>
<text x="205.23" y="443.0" font-size="12.3" textLength="7.47" lengthAdjust="spacingAndGlyphs">9</text>
<line x1="213.00" y1="444.8" x2="218.30" y2="432.2" stroke="#595959" stroke-width="1.05"/>
<text x="218.80" y="443.0" font-size="12.3" textLength="14.94" lengthAdjust="spacingAndGlyphs">16</text>
<text x="308.52" y="443.0" font-size="12.3" textLength="29.88" lengthAdjust="spacingAndGlyphs">2020</text>
<line x1="338.70" y1="444.8" x2="344.00" y2="432.2" stroke="#595959" stroke-width="1.05"/>
<text x="344.50" y="443.0" font-size="12.3" textLength="14.94" lengthAdjust="spacingAndGlyphs">12</text>
<line x1="359.74" y1="444.8" x2="365.04" y2="432.2" stroke="#595959" stroke-width="1.05"/>
<text x="365.54" y="443.0" font-size="12.3" textLength="14.94" lengthAdjust="spacingAndGlyphs">15</text>
<text x="455.25" y="443.0" font-size="12.3" textLength="29.88" lengthAdjust="spacingAndGlyphs">2021</text>
<line x1="485.44" y1="444.8" x2="490.74" y2="432.2" stroke="#595959" stroke-width="1.05"/>
<text x="491.24" y="443.0" font-size="12.3" textLength="7.47" lengthAdjust="spacingAndGlyphs">3</text>
<line x1="499.01" y1="444.8" x2="504.31" y2="432.2" stroke="#595959" stroke-width="1.05"/>
<text x="504.81" y="443.0" font-size="12.3" textLength="14.94" lengthAdjust="spacingAndGlyphs">15</text>
<text x="598.25" y="443.0" font-size="12.3" textLength="29.88" lengthAdjust="spacingAndGlyphs">2021</text>
<line x1="628.43" y1="444.8" x2="633.74" y2="432.2" stroke="#595959" stroke-width="1.05"/>
<text x="634.24" y="443.0" font-size="12.3" textLength="7.47" lengthAdjust="spacingAndGlyphs">6</text>
<line x1="642.00" y1="444.8" x2="647.31" y2="432.2" stroke="#595959" stroke-width="1.05"/>
<text x="647.81" y="443.0" font-size="12.3" textLength="14.94" lengthAdjust="spacingAndGlyphs">13</text>
<text x="741.25" y="443.0" font-size="12.3" textLength="29.88" lengthAdjust="spacingAndGlyphs">2021</text>
<line x1="771.43" y1="444.8" x2="776.74" y2="432.2" stroke="#595959" stroke-width="1.05"/>
<text x="777.24" y="443.0" font-size="12.3" textLength="7.47" lengthAdjust="spacingAndGlyphs">9</text>
<line x1="785.00" y1="444.8" x2="790.31" y2="432.2" stroke="#595959" stroke-width="1.05"/>
<text x="790.81" y="443.0" font-size="12.3" textLength="14.94" lengthAdjust="spacingAndGlyphs">11</text>
<text x="880.52" y="443.0" font-size="12.3" textLength="29.88" lengthAdjust="spacingAndGlyphs">2021</text>
<line x1="910.70" y1="444.8" x2="916.00" y2="432.2" stroke="#595959" stroke-width="1.05"/>
<text x="916.50" y="443.0" font-size="12.3" textLength="14.94" lengthAdjust="spacingAndGlyphs">12</text>
<line x1="931.74" y1="444.8" x2="937.04" y2="432.2" stroke="#595959" stroke-width="1.05"/>
<text x="937.54" y="443.0" font-size="12.3" textLength="14.94" lengthAdjust="spacingAndGlyphs">10</text>
<text x="1027.26" y="443.0" font-size="12.3" textLength="29.88" lengthAdjust="spacingAndGlyphs">2022</text>
<line x1="1057.44" y1="444.8" x2="1062.74" y2="432.2" stroke="#595959" stroke-width="1.05"/>
<text x="1063.24" y="443.0" font-size="12.3" textLength="7.47" lengthAdjust="spacingAndGlyphs">3</text>
<line x1="1071.01" y1="444.8" x2="1076.31" y2="432.2" stroke="#595959" stroke-width="1.05"/>
<text x="1076.81" y="443.0" font-size="12.3" textLength="14.94" lengthAdjust="spacingAndGlyphs">10</text>
<line x1="208.0" y1="24.6" x2="239.5" y2="24.6" stroke="#FF0000" stroke-width="3.9" stroke-linecap="round"/>
<text x="243.9" y="28.9" font-size="14.67" fill="#595959" style="font-family:'Liberation Sans','Noto Sans CJK SC',sans-serif;">总净值</text>
<line x1="308.0" y1="25.1" x2="338.5" y2="25.1" stroke="#00B0F0" stroke-width="2.1" stroke-linecap="round"/>
<text transform="translate(343.3 28.9) scale(1.00 1)" font-size="12.6">IC</text>
<line x1="376.0" y1="25.1" x2="406.7" y2="25.1" stroke="#7030A0" stroke-width="2.1" stroke-linecap="round"/>
<text x="411.0" y="28.9" font-size="14.67" fill="#595959" style="font-family:'Liberation Sans','Noto Sans CJK SC',sans-serif;">股票</text>
<text transform="translate(440.2 28.9) scale(0.90 1)" font-size="12.6">ETF</text>
<line x1="481.8" y1="25.1" x2="512.9" y2="25.1" stroke="#00B050" stroke-width="2.1" stroke-linecap="round"/>
<text x="518.2" y="28.9" font-size="14.67" fill="#595959" style="font-family:'Liberation Sans','Noto Sans CJK SC',sans-serif;">双低转债</text>
<line x1="598.0" y1="25.1" x2="628.7" y2="25.1" stroke="#C55A11" stroke-width="2.1" stroke-linecap="round"/>
<text x="633.6" y="28.9" font-size="14.67" fill="#595959" style="font-family:'Liberation Sans','Noto Sans CJK SC',sans-serif;">低溢价转债</text>
<line x1="728.0" y1="25.1" x2="758.7" y2="25.1" stroke="#70AD47" stroke-width="2.1" stroke-linecap="round"/>
<text x="764.0" y="28.9" font-size="14.67" fill="#595959" style="font-family:'Liberation Sans','Noto Sans CJK SC',sans-serif;">私募</text>
<line x1="813.2" y1="25.1" x2="843.6" y2="25.1" stroke="#FFC000" stroke-width="2.1" stroke-linecap="round"/>
<text x="849.2" y="28.9" font-size="14.67" fill="#595959" style="font-family:'Liberation Sans','Noto Sans CJK SC',sans-serif;">商品期货</text>
</svg></body></html>
